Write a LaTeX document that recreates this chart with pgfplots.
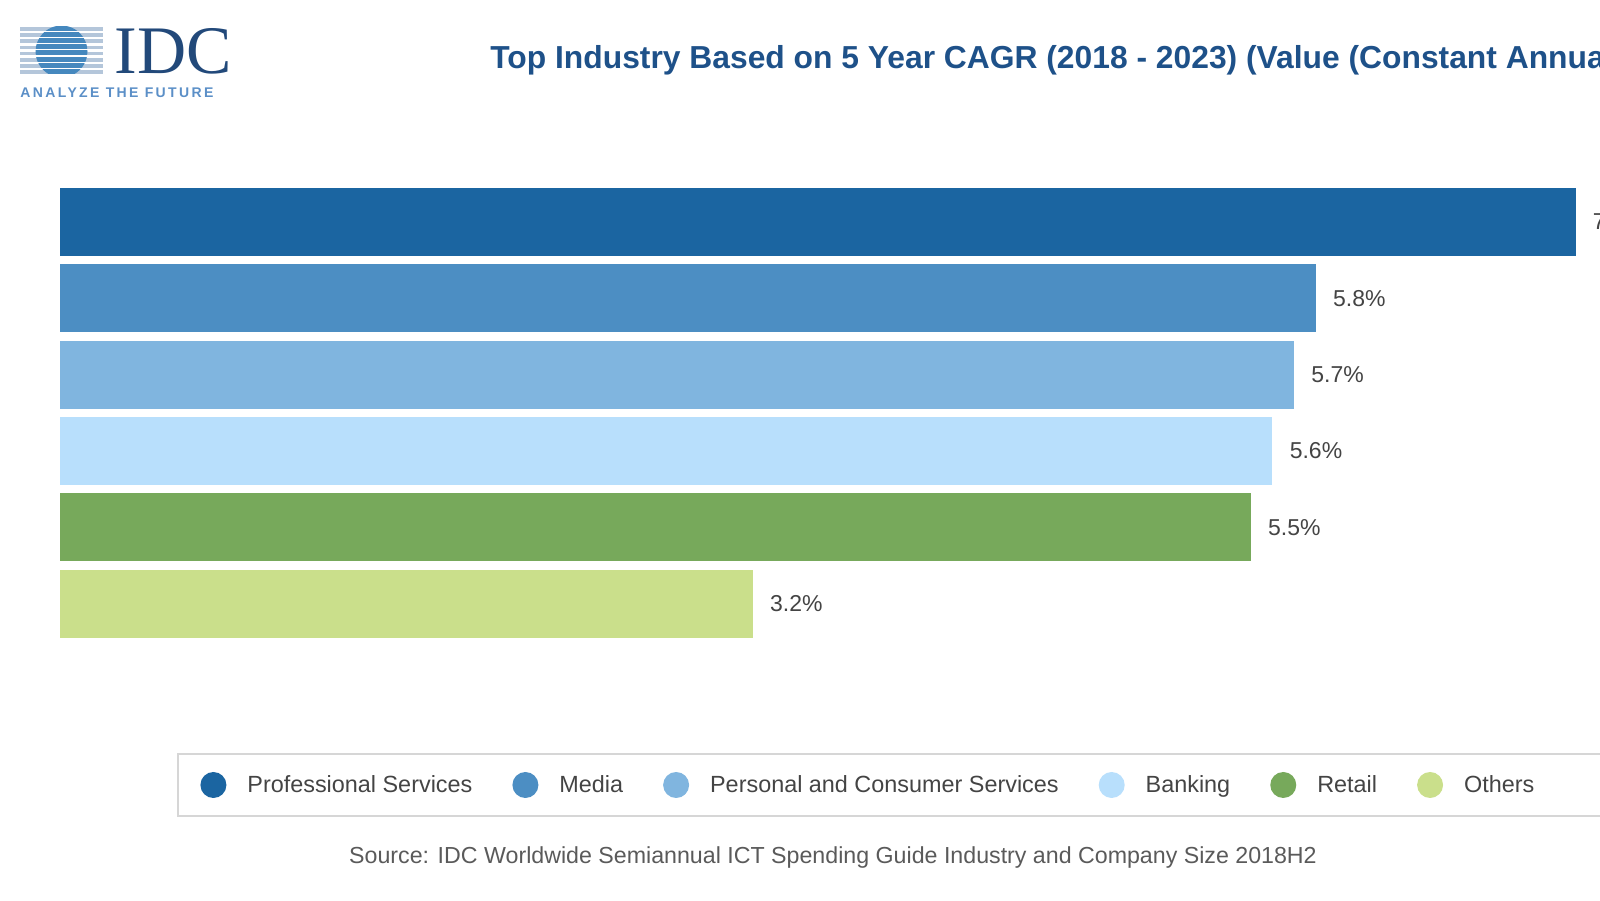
\documentclass[border=0pt]{standalone}
\usepackage{pgfplots}
\pgfplotsset{compat=1.18}
\usepackage{fontspec}
\setmainfont{Liberation Sans}
\newfontfamily\logoserif{Liberation Serif}
\newfontfamily\logotag[LetterSpace=17]{Liberation Sans}

\definecolor{c1}{HTML}{1B65A1}
\definecolor{c2}{HTML}{4C8EC3}
\definecolor{c3}{HTML}{80B5DF}
\definecolor{c4}{HTML}{B8DFFC}
\definecolor{c5}{HTML}{77A95B}
\definecolor{c6}{HTML}{CADF8B}
\definecolor{titleblue}{HTML}{1E5189}
\definecolor{logoblue}{HTML}{22497A}
\definecolor{taglight}{HTML}{5B8FC7}
\definecolor{stripe}{HTML}{B4C6DA}
\definecolor{labelgray}{HTML}{444444}
\definecolor{sourcegray}{HTML}{5A5A5A}
\definecolor{framegray}{HTML}{D6D6D6}

\begin{document}
\begin{tikzpicture}[x=0.5pt,y=0.5pt]
% one unit = one pixel of the 1600x900 reference, y measured downwards as negative
\useasboundingbox (0,0) rectangle (1600,-900);
\clip (0,0) rectangle (1600,-900);

% logo
\foreach \k in {0,...,7}
  \fill[stripe] (20,{-27-6.2*\k}) rectangle (103,{-30.5-6.2*\k});
\begin{scope}
  \clip (61.5,-51.5) circle (26);
  \foreach \k in {0,...,7}
    \fill[c2!85!c1] (20,{-25.5-6.2*\k}) rectangle (103,{-30.5-6.2*\k});
\end{scope}
\node[anchor=base west, inner sep=0pt, text=logoblue,
      font=\logoserif\fontsize{34}{34}\selectfont] at (114,-73) {IDC};
\node[anchor=base west, inner sep=0pt, text=taglight,
      font=\logotag\bfseries\fontsize{7}{7}\selectfont] at (20,-97) {ANALYZE THE FUTURE};

% title (runs past the right edge, as in the reference)
\node[anchor=base west, inner sep=0pt, text=titleblue,
      font=\fontsize{15.9}{18}\selectfont\bfseries] at (490,-68)
  {Top Industry Based on 5 Year CAGR (2018 - 2023) (Value (Constant Annual US\$))};

% legend frame
\draw[framegray, line width=1pt] (178,-754) rectangle (1700,-816);

\begin{axis}[
  at={(30pt,-91.925pt)}, anchor=north west,
  scale only axis, width=811.875pt, height=228.9pt,
  xmin=0, xmax=7.5, ymin=0.5, ymax=6.5, y dir=reverse,
  hide axis, clip=false,
  xbar, bar width=34pt, bar shift=0pt,
  /pgf/number format/assume math mode=true,
  nodes near coords={\pgfmathprintnumber[fixed,fixed zerofill,precision=1]{\pgfplotspointmeta}\%},
  nodes near coords style={anchor=west, inner sep=0pt, xshift=8.5pt,
    font=\fontsize{11.5}{13}\selectfont, text=labelgray},
  legend columns=6,
  legend cell align=left,
  legend image code/.code={\fill[#1] (6.5pt,0.5pt) circle (6.5pt);},
  legend style={draw=none, fill=none, inner sep=0pt,
    at={(axis description cs:0.08622,-0.31313)}, anchor=west,
    font=\fontsize{11.7}{14}\selectfont, text=labelgray,
    nodes={inner sep=0pt},
    /tikz/every odd column/.style={column sep=10.5pt},
    /tikz/every even column/.style={column sep=20pt}},
]
\addplot[fill=c1, draw=none] coordinates {(7.0,1)};
\addlegendentry{Professional Services}
\addplot[fill=c2, draw=none] coordinates {(5.8,2)};
\addlegendentry{Media}
\addplot[fill=c3, draw=none] coordinates {(5.7,3)};
\addlegendentry{Personal and Consumer Services}
\addplot[fill=c4, draw=none] coordinates {(5.6,4)};
\addlegendentry{Banking}
\addplot[fill=c5, draw=none] coordinates {(5.5,5)};
\addlegendentry{Retail}
\addplot[fill=c6, draw=none] coordinates {(3.2,6)};
\addlegendentry{Others}
\end{axis}

% source
\node[anchor=base, inner sep=0pt, text=sourcegray,
      font=\fontsize{11.6}{14}\selectfont] at (833,-863)
  {Source: IDC Worldwide Semiannual ICT Spending Guide Industry and Company Size 2018H2};
\end{tikzpicture}
\end{document}
